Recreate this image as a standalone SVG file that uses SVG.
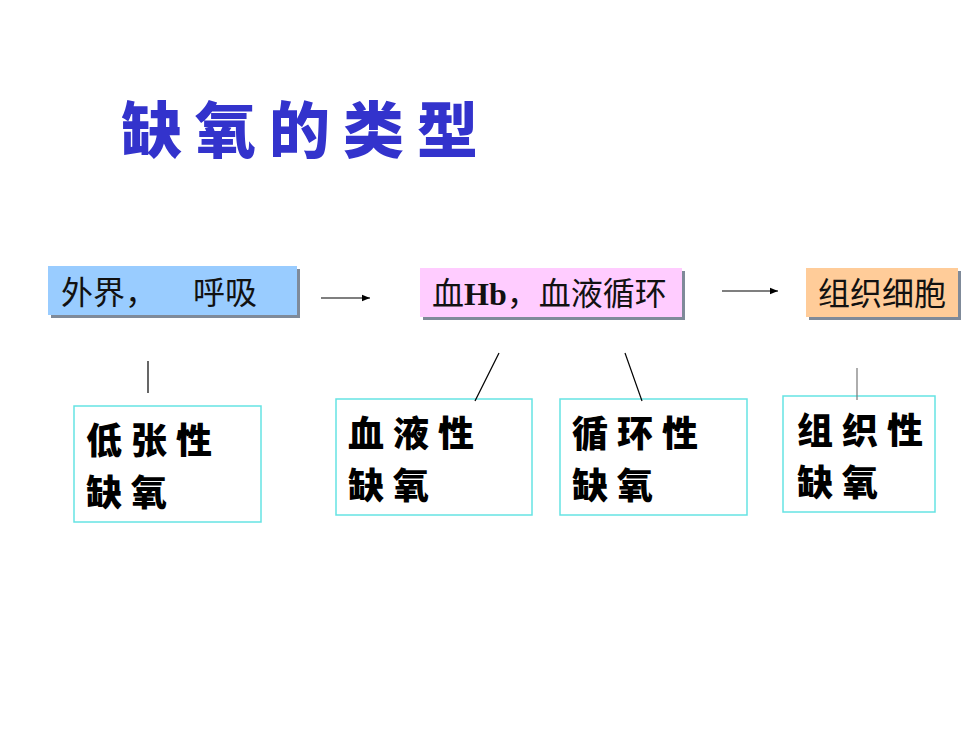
<svg xmlns="http://www.w3.org/2000/svg" width="980" height="735" viewBox="0 0 980 735">
<style>
.title{font-family:"Noto Sans CJK SC",sans-serif;font-weight:900;font-size:61px;fill:#3333cc;letter-spacing:13px}
.top{font-family:"Liberation Serif","Noto Sans CJK SC",serif;font-size:32px;fill:#111}
.hb{font-family:"Liberation Serif",serif;font-weight:bold}
.cjk{font-family:"Noto Sans CJK SC",sans-serif}
.sh{fill:#7f8a99}
.low{fill:#fff;stroke:#66e3e3;stroke-width:1.5}
.lt{font-family:"Noto Sans CJK SC",sans-serif;font-weight:900;font-size:36px;fill:#000;letter-spacing:9px}
.con{stroke:#000;stroke-width:1.2;fill:none}
</style>
<defs>
<marker id="ah" viewBox="0 0 10 10" refX="10" refY="5" markerWidth="8" markerHeight="8" markerUnits="userSpaceOnUse" orient="auto">
<path d="M0,1 L10,5 L0,9 Z" fill="#000"/>
</marker>
</defs>
<rect width="980" height="735" fill="#fff"/>
<g id="title"><text class="title" x="121" y="153">缺氧的类型</text></g>

<g id="n-external">
<rect class="sh" x="51" y="269" width="249" height="49"/>
<rect x="48" y="266" width="249" height="49" fill="#99ccff"/>
<text class="top cjk" x="61" y="304">外界，<tspan x="193">呼吸</tspan></text>
</g>
<g id="n-blood">
<rect class="sh" x="423" y="271" width="262" height="49"/>
<rect x="420" y="268" width="262" height="49" fill="#ffccff"/>
<text class="top" x="432" y="305"><tspan class="cjk">血</tspan><tspan class="hb">Hb</tspan><tspan class="cjk" textLength="160" lengthAdjust="spacing">，血液循环</tspan></text>
</g>
<g id="n-tissue">
<rect class="sh" x="809" y="271" width="152" height="49"/>
<rect x="806" y="268" width="152" height="49" fill="#ffcc99"/>
<text class="top cjk" x="818" y="305">组织细胞</text>
</g>

<g id="n-hypotonic">
<rect class="low" x="74" y="406" width="187" height="116"/>
<text class="lt" x="86" y="454">低张性</text>
<text class="lt" x="86" y="506">缺氧</text>
</g>
<g id="n-hemic">
<rect class="low" x="336" y="399" width="196" height="116"/>
<text class="lt" x="348" y="447">血液性</text>
<text class="lt" x="348" y="499">缺氧</text>
</g>
<g id="n-circulatory">
<rect class="low" x="560" y="399" width="187" height="116"/>
<text class="lt" x="572" y="447">循环性</text>
<text class="lt" x="572" y="499">缺氧</text>
</g>
<g id="n-histogenous">
<rect class="low" x="783" y="396" width="152" height="116"/>
<text class="lt" x="797" y="444">组织性</text>
<text class="lt" x="797" y="496">缺氧</text>
</g>

<g id="connectors">
<line class="con" x1="321" y1="298" x2="370" y2="298" marker-end="url(#ah)"/>
<line class="con" x1="722" y1="291" x2="778" y2="291" marker-end="url(#ah)"/>
<line class="con" x1="148" y1="361" x2="148" y2="393"/>
<line class="con" x1="499" y1="353" x2="475" y2="401"/>
<line class="con" x1="625" y1="353" x2="642" y2="401"/>
<line class="con" x1="857" y1="368" x2="857" y2="400" style="stroke:#777"/>
</g>
</svg>
